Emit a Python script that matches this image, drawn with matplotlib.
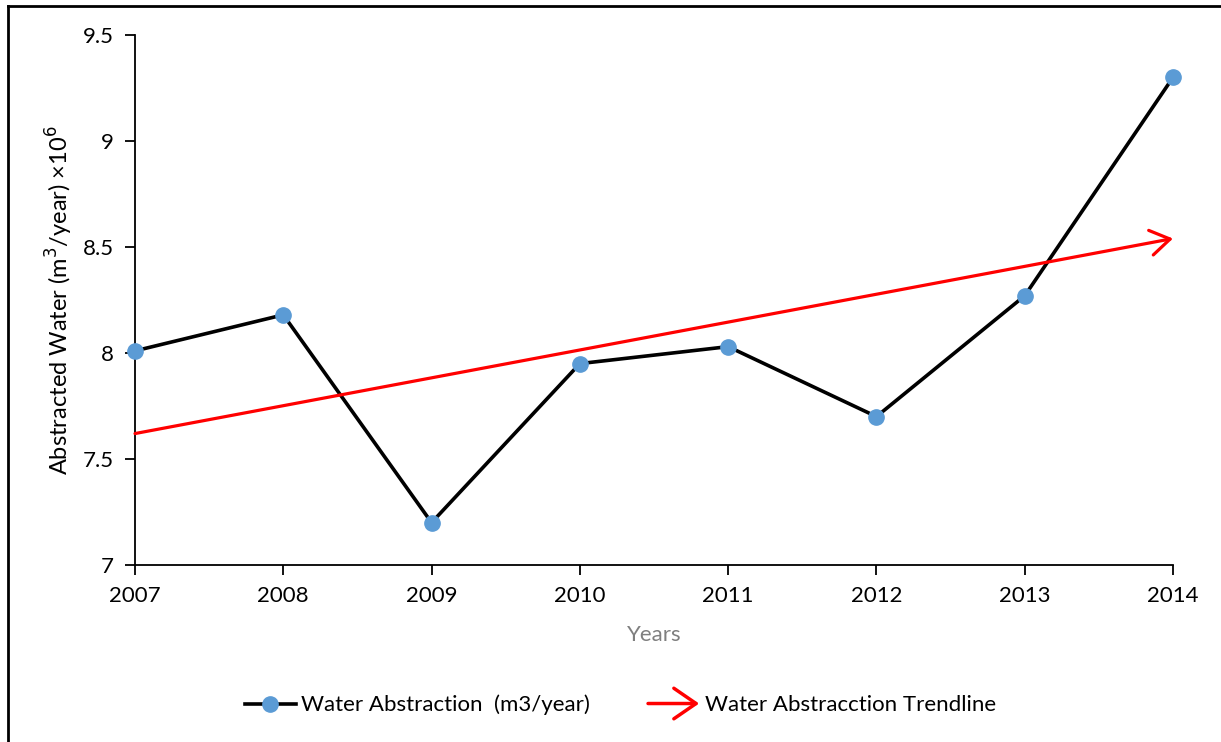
import matplotlib
matplotlib.use("Agg")
import matplotlib.pyplot as plt
from matplotlib.lines import Line2D
from matplotlib.patches import FancyArrowPatch
from matplotlib.legend_handler import HandlerBase

years = [2007, 2008, 2009, 2010, 2011, 2012, 2013, 2014]
abstraction = [8.01, 8.18, 7.20, 7.95, 8.03, 7.70, 8.27, 9.30]
trend_years = [2007, 2014]
trend_vals = [7.62, 8.54]
yticks = [7, 7.5, 8, 8.5, 9, 9.5]
ytick_labels = ["7", "7.5", "8", "8.5", "9", "9.5"]

plt.rcParams["font.family"] = ["Lato", "DejaVu Sans"]


class ArrowHandler(HandlerBase):
    def create_artists(self, legend, orig, xd, yd, w, h, fontsize, trans):
        a = FancyArrowPatch((-xd, h / 2 - yd), (-xd + w, h / 2 - yd),
                            arrowstyle="->,head_length=0.8,head_width=0.55",
                            color="red", lw=2.5, mutation_scale=20,
                            shrinkA=0, shrinkB=0, transform=trans)
        return [a]


fig = plt.figure(figsize=(12.21, 7.42), dpi=100)
ax = fig.add_axes([135 / 1221, 1 - 565 / 742, (1173 - 135) / 1221, (565 - 35) / 742])

line, = ax.plot(years, abstraction, color="black", lw=2.6, marker="o",
                markersize=11, markerfacecolor="#5B9BD5", markeredgecolor="#5B9BD5",
                zorder=3, clip_on=False)
ax.annotate("", xy=(trend_years[1], trend_vals[1]), xytext=(trend_years[0], trend_vals[0]),
            arrowprops=dict(arrowstyle="->,head_length=0.7,head_width=0.45", color="red",
                            lw=2.3, mutation_scale=20, shrinkA=0, shrinkB=0))

ax.set_xlim(2007, 2014)
ax.set_ylim(7, 9.5)
ax.set_xticks(years)
ax.set_xticklabels([str(y) for y in years])
ax.set_yticks(yticks)
ax.set_yticklabels(ytick_labels)
for s in ["top", "right"]:
    ax.spines[s].set_visible(False)
for s in ["left", "bottom"]:
    ax.spines[s].set_linewidth(1.3)
ax.tick_params(axis="both", direction="out", length=7, width=1.3, labelsize=16, pad=8)
ax.set_xlabel("Years", fontsize=16, color="#7F7F7F", labelpad=14)
ax.set_ylabel("Abstracted Water (m$^{3}$/year) ×10$^{6}$", fontsize=17, labelpad=6)

arrow_proxy = Line2D([], [], color="red")
fig.legend([line, arrow_proxy],
           ["Water Abstraction  (m3/year)", "Water Abstracction Trendline"],
           handler_map={arrow_proxy: ArrowHandler()},
           loc="center", bbox_to_anchor=(0.508, 1 - 705 / 742), ncol=2, frameon=False,
           fontsize=16, handlelength=2.3, columnspacing=2.6, handletextpad=0.25)

fig.add_artist(Line2D([8 / 1221, 8 / 1221], [0, 1 - 6 / 742], color="black", lw=2,
                      transform=fig.transFigure))
fig.add_artist(Line2D([8 / 1221, 1], [1 - 6 / 742, 1 - 6 / 742], color="black", lw=2,
                      transform=fig.transFigure))

fig.savefig("out.png", dpi=100)
